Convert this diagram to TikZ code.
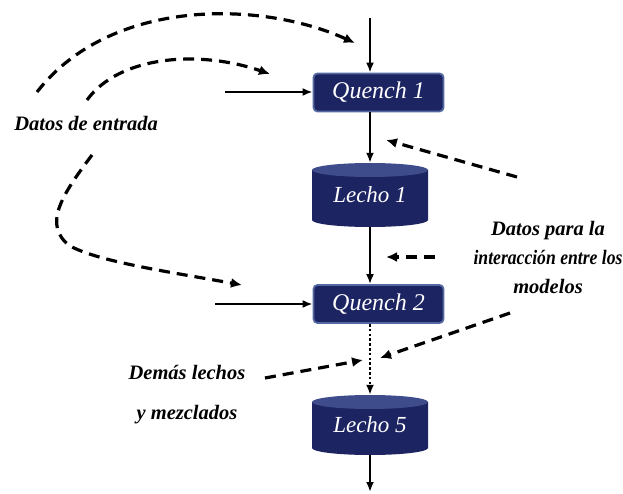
\documentclass[tikz,border=0pt]{standalone}
\usepackage{fontspec}
\setmainfont{Liberation Serif}
\usetikzlibrary{arrows.meta}
\definecolor{navy}{RGB}{28,36,98}
\definecolor{navyedge}{RGB}{84,104,162}
\definecolor{navytop}{RGB}{62,76,140}
\tikzset{
  qbox/.style={draw=navyedge, line width=1.8pt, fill=navy, rounded corners=4pt,
    minimum width=130pt, minimum height=38pt, inner sep=0pt, text=white,
    font=\itshape\fontsize{24}{24}\selectfont},
  bed/.style={minimum width=116pt, minimum height=#1, inner sep=0pt, text=white,
    font=\itshape\fontsize{23}{23}\selectfont,
    path picture={
      \fill[navy] ([yshift=-7pt]path picture bounding box.north west)
        -- ([yshift=7pt]path picture bounding box.south west)
        arc[start angle=180, end angle=360, x radius=58pt, y radius=7pt]
        -- ([yshift=-7pt]path picture bounding box.north east) -- cycle;
      \fill[navytop] ([yshift=-7pt]path picture bounding box.north)
        ellipse[x radius=58pt, y radius=7pt];
    }},
  flow/.style={line width=2.6pt, -{Latex[length=10pt,width=8pt]}},
  dataflow/.style={line width=3.2pt, dash pattern=on 11pt off 7pt,
    -{Latex[length=11pt,width=10pt]}},
  lbl/.style={font=\bfseries\itshape\fontsize{20.5}{29}\selectfont, align=center}
}
\begin{document}
\begin{tikzpicture}[x=1pt,y=1pt]
\useasboundingbox (0,0) rectangle (623,493);
% main nodes
\node[qbox] (q1) at (378.5,400.5) {Quench 1};
\node[bed=64pt] (l1) at (370,298) {Lecho 1};
\node[qbox] (q2) at (378.5,189) {Quench 2};
\node[bed=60pt] (l5) at (370,68) {Lecho 5};
% labels
\node[lbl] (din) at (86,370) {Datos de entrada};
\node[lbl] (dint) at (548,236) {Datos para la\\\scalebox{0.86}[1]{interacción entre los}\\modelos};
\node[lbl] (dem) at (187,121) {Demás lechos};
\node[lbl] (mez) at (187,78) {y mezclados};
% free ends
\coordinate (top) at (370,475);
\coordinate (bot) at (370,1);
\coordinate (in1) at (225,401);
\coordinate (in2) at (215,189);
\coordinate (c1s) at (37,401);  \coordinate (c1e) at (355,450);
\coordinate (c2s) at (87,393);  \coordinate (c2e) at (270,419);
\coordinate (c3s) at (92,338);  \coordinate (c3m) at (70,247); \coordinate (c3e) at (242,208);
\coordinate (d4s) at (517,316); \coordinate (d4e) at (386,353);
\coordinate (d5s) at (435,236); \coordinate (d5e) at (386,236);
\coordinate (d6s) at (510,180); \coordinate (d6e) at (380,135);
\coordinate (d7s) at (265,115); \coordinate (d7e) at (363,133);
% main flow
\draw[flow] (top) -- (top |- q1.north);
\draw[flow] (l1 |- q1.south) -- (l1.north);
\draw[flow] (l1.south) -- (l1 |- q2.north);
\draw[flow, dash pattern=on 2.6pt off 2.2pt] (l5 |- q2.south) -- (l5.north);
\draw[flow] (l5.south) -- (bot);
\draw[flow] (in1) -- (in1 -| q1.west);
\draw[flow] (in2) -- (in2 -| q2.west);
% data arrows
\draw[dataflow] (c1s) .. controls (110,495) and (260,493) .. (c1e);
\draw[dataflow] (c2s) .. controls (120,438) and (200,443) .. (c2e);
\draw[dataflow] (c3s) .. controls (62,298) and (42,268) .. (c3m)
  .. controls (100,231) and (170,221) .. (c3e);
\draw[dataflow] (d4s) -- (d4e);
\draw[dataflow] (d5s) -- (d5e);
\draw[dataflow] (d6s) -- (d6e);
\draw[dataflow] (d7s) -- (d7e);
\end{tikzpicture}
\end{document}
